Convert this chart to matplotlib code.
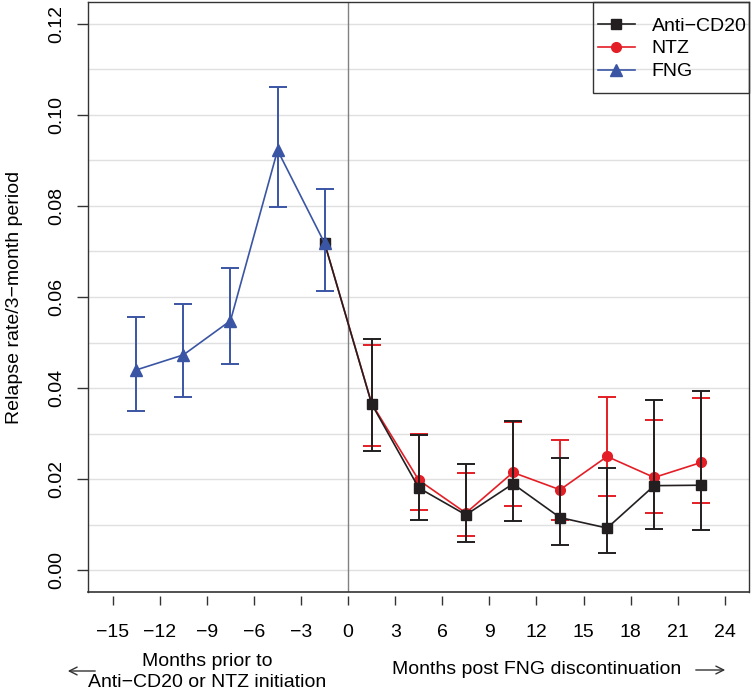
import numpy as np
import matplotlib
matplotlib.use("Agg")
import matplotlib.pyplot as plt
from matplotlib.patches import Rectangle

plt.rcParams['font.family'] = ['Liberation Sans', 'DejaVu Sans']
plt.rcParams['font.size'] = 14

# months relative to FNG discontinuation (interval midpoints)
months_pre = [-13.5, -10.5, -7.5, -4.5, -1.5]
fng_rate = [0.0440, 0.0473, 0.0548, 0.0922, 0.0718]
fng_lo = [0.0349, 0.0380, 0.0453, 0.0798, 0.0613]
fng_hi = [0.0557, 0.0585, 0.0664, 0.1061, 0.0838]

months_post = [1.5, 4.5, 7.5, 10.5, 13.5, 16.5, 19.5, 22.5]
cd20_rate = [0.0365, 0.0181, 0.0122, 0.0190, 0.0116, 0.0093, 0.0186, 0.0187]
cd20_lo = [0.0262, 0.0110, 0.0062, 0.0109, 0.0055, 0.0038, 0.0092, 0.0088]
cd20_hi = [0.0507, 0.0297, 0.0234, 0.0327, 0.0246, 0.0225, 0.0373, 0.0393]

ntz_rate = [0.0366, 0.0198, 0.0126, 0.0215, 0.0177, 0.0250, 0.0204, 0.0237]
ntz_lo = [0.0274, 0.0132, 0.0075, 0.0141, 0.0110, 0.0164, 0.0127, 0.0149]
ntz_hi = [0.0495, 0.0299, 0.0214, 0.0326, 0.0286, 0.0380, 0.0330, 0.0378]

x_ticks = list(range(-15, 25, 3))
y_ticks = [0.00, 0.02, 0.04, 0.06, 0.08, 0.10, 0.12]
y_grid = np.arange(0, 0.125, 0.01)

BLACK = '#231f20'
RED = '#e41e26'
BLUE = '#3a55a4'

W, H = 752, 690
fig = plt.figure(figsize=(W / 100, H / 100), dpi=100)
ax = fig.add_axes([88.3 / W, 1 - 592.3 / H, 661 / W, 590.6 / H])

ax.set_xlim(-16.56, 25.56)
ax.set_ylim(-0.0048, 0.1248)

for g in y_grid:
    ax.axhline(g, color='#e0e0e0', lw=1, zorder=0)
ax.axvline(0, color='#808080', lw=1, zorder=1)

# post-period lines start from the last pre-period value
x_post_line = [months_pre[-1]] + months_post


def draw(rate, lo, hi, color, marker, ms, label, z):
    rate = np.array(rate)
    err = [rate - np.array(lo), np.array(hi) - rate]
    ax.errorbar(months_post, rate, yerr=err, fmt='none', ecolor=color,
                elinewidth=1.4, capsize=6.2, capthick=1.4, zorder=z)
    ax.plot(x_post_line, [fng_rate[-1]] + list(rate), color=color, lw=1.2,
            marker=marker, ms=ms, label=label, zorder=z + 0.5)


draw(ntz_rate, ntz_lo, ntz_hi, RED, 'o', 7, 'NTZ', 3)
draw(cd20_rate, cd20_lo, cd20_hi, BLACK, 's', 6.5, 'Anti\u2212CD20', 4)

fr = np.array(fng_rate)
ax.errorbar(months_pre, fr, yerr=[fr - np.array(fng_lo), np.array(fng_hi) - fr],
            fmt='none', ecolor=BLUE, elinewidth=1.4, capsize=6.2, capthick=1.4, zorder=5)
ax.plot(months_pre, fng_rate, color=BLUE, lw=1.2, marker='^', ms=8.5,
        label='FNG', zorder=5.5)

ax.set_xticks(x_ticks)
ax.set_xticklabels([f'{t}'.replace('-', '\u2212') for t in x_ticks])
ax.set_yticks(y_ticks)
ax.set_yticklabels([f'{t:.2f}' for t in y_ticks], rotation=90, va='center')
ax.tick_params(axis='x', direction='out', length=6.5, width=1, pad=13.5, color='#333333')
ax.tick_params(axis='y', direction='out', length=8, width=1, pad=8.5, color='#333333')

for s in ax.spines.values():
    s.set_color('#333333')
    s.set_linewidth(1)
ax.spines['bottom'].set_position(('outward', 2.5))
ax.spines['bottom'].set_visible(False)
ax.plot([0, 1], [0, 0], transform=ax.transAxes, color='#333333', lw=1.2,
        clip_on=False, zorder=10)

ax.set_ylabel('Relapse rate/3\u2212month period', labelpad=18)

# legend: contents placed without frame, box drawn separately (R style padding)
handles, labels = ax.get_legend_handles_labels()
order = [1, 0, 2]
leg = ax.legend([handles[i] for i in order], [labels[i] for i in order],
                loc='upper left', bbox_to_anchor=(598 / W, 1 - 17 / H),
                bbox_transform=fig.transFigure, borderaxespad=0, borderpad=0,
                frameon=False, handlelength=1.9, handletextpad=0.85,
                labelspacing=0.27)
fig.patches.append(Rectangle((593 / W, 1 - 93.3 / H), (749.3 - 593) / W, (93.3 - 1.7) / H,
                             transform=fig.transFigure, fill=False,
                             edgecolor='#333333', lw=1, zorder=20))

fig.text(207 / W, 1 - 672 / H, 'Months prior to\nAnti\u2212CD20 or NTZ initiation',
         ha='center', va='center', linespacing=1.25)
fig.text(536.5 / W, 1 - 670 / H, 'Months post FNG discontinuation',
         ha='center', va='center')
ax.annotate('', xy=(65, H - 671), xytext=(98, H - 671), xycoords='figure pixels',
            textcoords='figure pixels',
            arrowprops=dict(arrowstyle='->', lw=1, color='#333333', mutation_scale=14))
ax.annotate('', xy=(728, H - 670), xytext=(693, H - 670), xycoords='figure pixels',
            textcoords='figure pixels',
            arrowprops=dict(arrowstyle='->', lw=1, color='#333333', mutation_scale=14))

fig.savefig('out.png', dpi=100)
